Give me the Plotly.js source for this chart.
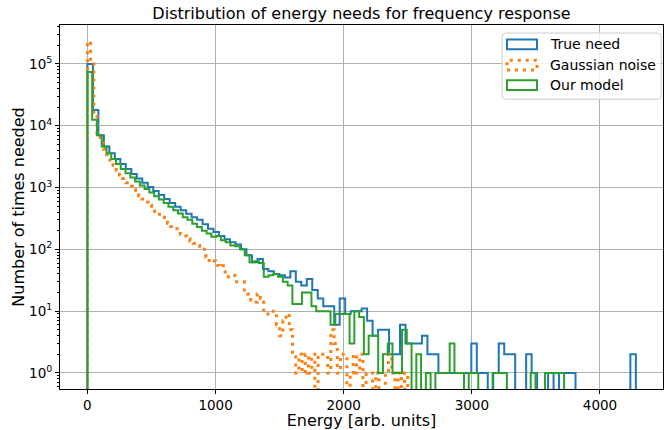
<!DOCTYPE html>
<html>
<head>
<meta charset="utf-8">
<script src="https://cdn.plot.ly/plotly-3.0.1.min.js"></script>
<style>
  html, body { margin: 0; padding: 0; background: #fff; }
  #chart { width: 664px; height: 430px; }
</style>
</head>
<body>
<div id="chart"></div>
<script>
// Histogram counts per bin (100 bins each, starting at 0)
const binWidthTrue = 42.8;
const binWidthNoise = 25;
const binWidthModel = 37.2;

const trueNeed = [
  100000, 18000, 7000, 4600, 3600, 2900, 2400, 2000, 1650, 1400,
  1200, 1020, 880, 760, 650, 560, 490, 430, 375, 330,
  300, 255, 215, 190, 165, 145, 130, 120, 100, 80,
  62, 70, 48, 44, 40, 38, 35, 44, 30, 26,
  33, 22, 16, 12, 12, 6, 16, 9, 10, 10,
  11, 7, 4, 5, 5, 2, 2, 6, 3, 3,
  3, 4, 2, 2, 1, 1, 1, 1, 1, 1,
  3, 1, 1, 0, 1, 3, 2, 2, 0, 0,
  2, 1, 0, 0, 1, 0, 1, 1, 1, 0,
  0, 0, 0, 0, 0, 0, 0, 0, 0, 2
];

const gaussianNoise = [
  230000, 100000, 14000, 7500, 5200, 4200, 3400, 2800, 2300, 1900,
  1600, 1400, 1200, 1050, 920, 820, 730, 650, 580, 520,
  460, 410, 370, 330, 295, 265, 235, 215, 195, 175,
  165, 150, 135, 125, 115, 105, 100, 75, 62, 65,
  55, 52, 54, 40, 36, 38, 30, 30, 30, 22,
  19, 15, 14, 19, 16, 9, 9, 9, 10, 6,
  4, 7, 9, 5, 2, 1, 2, 1, 2, 1,
  2, 0, 2, 2, 2, 1, 5, 3, 1, 2,
  2, 0, 1, 2, 1, 2, 0, 1, 1, 0,
  1, 0, 0, 1, 2, 1, 0, 1, 0, 1
];

const ourModel = [
  74000, 12500, 7000, 4600, 3600, 2900, 2400, 2000, 1700, 1450,
  1250, 1080, 950, 830, 720, 640, 560, 490, 430, 380,
  330, 300, 260, 230, 200, 180, 160, 165, 140, 130,
  115, 112, 100, 80, 62, 64, 60, 36, 38, 40,
  36, 30, 26, 13, 13, 20, 20, 12, 10, 10,
  10, 6, 9, 9, 9, 3, 10, 8, 2, 4,
  4, 1, 2, 3, 1, 1, 5, 3, 0, 2,
  0, 1, 0, 1, 1, 1, 3, 1, 1, 0,
  1, 1, 0, 0, 0, 1, 1, 1, 0, 0,
  0, 0, 0, 1, 0, 0, 1, 1, 1, 1
];

const seriesNames = ['True need', 'Gaussian noise', 'Our model'];
const seriesColors = ['#1f77b4', '#ff7f0e', '#2ca02c'];
const yTickVals = [1, 10, 100, 1000, 10000, 100000];
const yTickText = ['10<sup>0</sup>', '10<sup>1</sup>', '10<sup>2</sup>', '10<sup>3</sup>', '10<sup>4</sup>', '10<sup>5</sup>'];

const FONT = 'DejaVu Sans, sans-serif';
const EMPTY = 1e-3; // empty bins drop below the log axis, like matplotlib's step outline
const DOTS = '3px,5px';

// Build a matplotlib-style "step" outline from counts
function stepTrace(counts, width, name, line) {
  const x = [0];
  const y = [EMPTY];
  counts.forEach((c, i) => {
    x.push(i * width);
    y.push(c > 0 ? c : EMPTY);
  });
  const last = counts[counts.length - 1];
  x.push(counts.length * width, counts.length * width);
  y.push(last > 0 ? last : EMPTY, EMPTY);
  return {
    x: x, y: y, name: name,
    type: 'scatter', mode: 'lines',
    line: Object.assign({ shape: 'hv' }, line),
    hoverinfo: 'skip', showlegend: false
  };
}

const traces = [
  stepTrace(trueNeed, binWidthTrue, seriesNames[0], { color: seriesColors[0], width: 2 }),
  stepTrace(gaussianNoise, binWidthNoise, seriesNames[1], { color: seriesColors[1], width: 3, dash: DOTS }),
  stepTrace(ourModel, binWidthModel, seriesNames[2], { color: seriesColors[2], width: 2 })
];

// matplotlib-like legend: framed box with open rectangle patches
const box = { x0: 0.733, x1: 0.997, y0: 0.796, y1: 0.978, rx: 0.006, ry: 0.01 };
const roundedBox =
  `M${box.x0 + box.rx},${box.y0} L${box.x1 - box.rx},${box.y0} Q${box.x1},${box.y0} ${box.x1},${box.y0 + box.ry} ` +
  `L${box.x1},${box.y1 - box.ry} Q${box.x1},${box.y1} ${box.x1 - box.rx},${box.y1} ` +
  `L${box.x0 + box.rx},${box.y1} Q${box.x0},${box.y1} ${box.x0},${box.y1 - box.ry} ` +
  `L${box.x0},${box.y0 + box.ry} Q${box.x0},${box.y0} ${box.x0 + box.rx},${box.y0} Z`;
const legendRows = [0.947, 0.890, 0.835];
const shapes = [{
  type: 'path', xref: 'paper', yref: 'paper', path: roundedBox,
  fillcolor: 'rgba(255,255,255,0.8)', line: { color: '#cccccc', width: 1 }, layer: 'above'
}];
const annotations = [];
seriesNames.forEach((name, i) => {
  shapes.push({
    type: 'rect', xref: 'paper', yref: 'paper', layer: 'above',
    x0: 0.7413, x1: 0.791, y0: legendRows[i] - 0.0135, y1: legendRows[i] + 0.0135,
    line: { color: seriesColors[i], width: i === 1 ? 3 : 2, dash: i === 1 ? DOTS : 'solid' },
    fillcolor: 'rgba(0,0,0,0)'
  });
  annotations.push({
    xref: 'paper', yref: 'paper', x: 0.8093, y: legendRows[i],
    xanchor: 'left', yanchor: 'middle', showarrow: false,
    text: name, font: { family: FONT, size: 14, color: '#000' }
  });
});

const layout = {
  width: 664,
  height: 430,
  margin: { l: 60, r: 1, t: 25, b: 41 },
  paper_bgcolor: '#fff',
  plot_bgcolor: '#fff',
  font: { family: FONT, size: 13.5, color: '#000' },
  title: {
    text: 'Distribution of energy needs for frequency response',
    font: { family: FONT, size: 16, color: '#000' },
    xref: 'paper', x: 0.5, xanchor: 'center',
    yref: 'container', y: 0.97, yanchor: 'middle'
  },
  xaxis: {
    range: [-214, 4492],
    dtick: 1000,
    ticks: 'outside', ticklen: 4, tickcolor: '#000',
    showgrid: true, gridcolor: '#b0b0b0', gridwidth: 1,
    showline: true, mirror: true, linecolor: '#000', linewidth: 1,
    zeroline: false,
    tickfont: { family: FONT, size: 13.5 },
    title: { text: 'Energy [arb. units]', font: { family: FONT, size: 16 }, standoff: 4 }
  },
  yaxis: {
    type: 'log',
    range: [-0.26, 5.63],
    tickvals: yTickVals,
    ticktext: yTickText,
    ticks: 'outside', ticklen: 4, tickcolor: '#000',
    minor: { ticks: 'outside', ticklen: 2, tickcolor: '#000', dtick: 'D1', showgrid: false },
    showgrid: true, gridcolor: '#b0b0b0', gridwidth: 1,
    showline: true, mirror: true, linecolor: '#000', linewidth: 1,
    zeroline: false,
    tickfont: { family: FONT, size: 13.5 },
    title: { text: 'Number of times needed', font: { family: FONT, size: 16 }, standoff: 0 }
  },
  showlegend: false,
  shapes: shapes,
  annotations: annotations
};

Plotly.newPlot('chart', traces, layout, { displayModeBar: false, staticPlot: true });
</script>
</body>
</html>
